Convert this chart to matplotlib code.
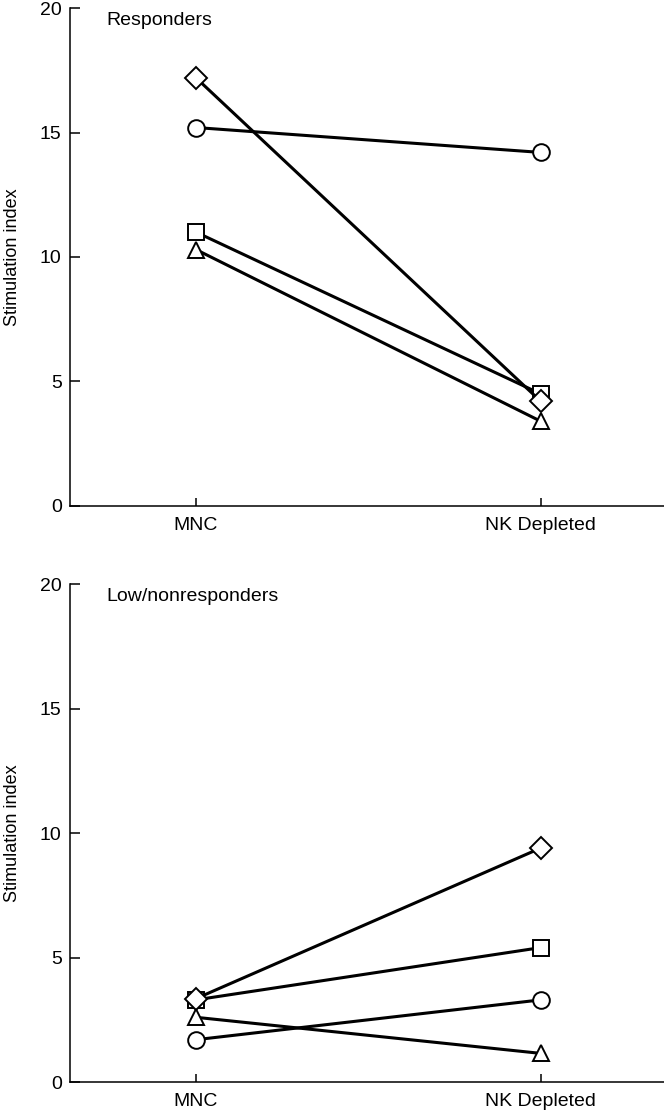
import matplotlib
matplotlib.use("Agg")
from matplotlib import pyplot as plt

plt.rcParams["font.family"] = ["Liberation Sans", "DejaVu Sans"]

groups = ["MNC", "NK Depleted"]
shapes = ["s", "D", "o", "^"]

# Responders panel (order: square, diamond, circle, triangle)
resp_square = [11.0, 4.5]
resp_diamond = [17.2, 4.2]
resp_circle = [15.2, 14.2]
resp_triangle = [10.3, 3.4]

# Low/nonresponders panel
low_square = [3.3, 5.4]
low_diamond = [3.35, 9.4]
low_circle = [1.7, 3.3]
low_triangle = [2.6, 1.15]

panels = [
    ("Responders", [resp_square, resp_diamond, resp_circle, resp_triangle]),
    ("Low/nonresponders", [low_square, low_diamond, low_circle, low_triangle]),
]

fig = plt.figure(figsize=(6.64, 11.14), dpi=100)
ax_top = fig.add_axes([0.1054, 0.5458, 0.8946, 0.4470])
ax_bot = fig.add_axes([0.1054, 0.0287, 0.8946, 0.4470])

for ax, (title, series) in zip([ax_top, ax_bot], panels):
    x = range(len(groups))
    for values, marker in zip(series, shapes):
        ms = 11.5 if marker == "D" else 12
        ax.plot(x, values, color="black", lw=2.2, marker=marker, ms=ms,
                mfc="white", mec="black", mew=1.4, zorder=3)
    ax.set_xlim(-0.365, 1.357)
    ax.set_ylim(0, 20)
    ax.set_yticks([0, 5, 10, 15, 20])
    ax.set_xticks(list(x))
    ax.set_xticklabels(groups)
    ax.spines["top"].set_visible(False)
    ax.spines["right"].set_visible(False)
    for side in ["left", "bottom"]:
        ax.spines[side].set_linewidth(1.1)
        ax.spines[side].set_clip_on(False)
    ax.tick_params(axis="y", direction="in", length=7, width=1.1,
                   labelsize=14, pad=6)
    ax.tick_params(axis="x", direction="in", length=6, width=1.1,
                   labelsize=14, pad=8)
    ax.set_ylabel("Stimulation index", fontsize=13)
    ax.yaxis.set_label_coords(-0.082, 0.5)
    ax.text(0.062, 0.993, title, transform=ax.transAxes, fontsize=14,
            ha="left", va="top")

fig.savefig("out.png", dpi=100)
